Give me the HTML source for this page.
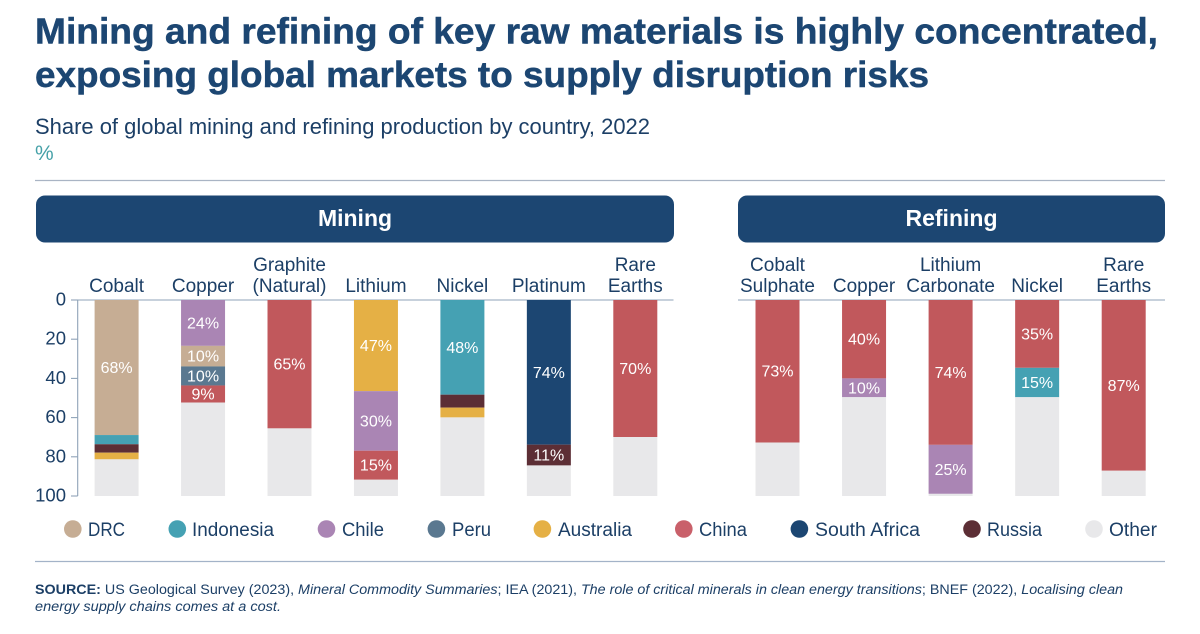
<!DOCTYPE html>
<html lang="en">
<head>
<meta charset="utf-8">
<title>Mining and refining concentration</title>
<style>
html,body{margin:0;padding:0;background:#fff;width:1200px;height:634px;overflow:hidden}
svg{display:block;font-family:"Liberation Sans",sans-serif}
.title{font-size:36px;font-weight:bold;fill:#1c4672;stroke:#1c4672;stroke-width:.5px}
.sub{font-size:22px;fill:#1c3f66}
.panel{font-size:23px;font-weight:bold;fill:#fff;text-anchor:middle}
.leg{font-size:19px;fill:#1c3f66}
.src{font-size:13.5px;fill:#1c3f66}
.cat{font-size:19px;fill:#1c3f66;text-anchor:middle}
.tick{font-size:18.5px;fill:#1c3f66;text-anchor:end}
.val{font-size:16px;fill:#fff;text-anchor:middle}
</style>
</head>
<body>
<svg id="chart" xmlns="http://www.w3.org/2000/svg" width="1200" height="634" viewBox="0 0 1200 634">
  <text class="title" x="35" y="43.5" textLength="1123" lengthAdjust="spacingAndGlyphs">Mining and refining of key raw materials is highly concentrated,</text>
  <text class="title" x="35" y="87" textLength="894" lengthAdjust="spacingAndGlyphs">exposing global markets to supply disruption risks</text>
  <text class="sub" x="35" y="134" textLength="615" lengthAdjust="spacingAndGlyphs">Share of global mining and refining production by country, 2022</text>
  <text class="sub" x="35" y="160" style="fill:#45a1a8;font-size:21px">%</text>
  <line x1="35" x2="1165" y1="180.5" y2="180.5" stroke="#a9b4c4" stroke-width="1.2"/>

  <rect x="36" y="195.5" width="638" height="47" rx="9" fill="#1c4672"/>
  <text class="panel" x="355" y="226">Mining</text>
  <rect x="738" y="195.5" width="427" height="47" rx="9" fill="#1c4672"/>
  <text class="panel" x="951.5" y="226">Refining</text>

  <g id="plot"></g>

  <g>
    <g><circle cx="72.8" cy="529" r="8.8" fill="#c6ad94"/><text class="leg" x="88" y="536" textLength="37" lengthAdjust="spacingAndGlyphs">DRC</text></g>
    <g><circle cx="177.3" cy="529" r="8.8" fill="#45a1b3"/><text class="leg" x="192" y="536" textLength="82" lengthAdjust="spacingAndGlyphs">Indonesia</text></g>
    <g><circle cx="326.5" cy="529" r="8.8" fill="#aa85b4"/><text class="leg" x="342" y="536" textLength="42" lengthAdjust="spacingAndGlyphs">Chile</text></g>
    <g><circle cx="436.4" cy="529" r="8.8" fill="#5a7890"/><text class="leg" x="452" y="536" textLength="39" lengthAdjust="spacingAndGlyphs">Peru</text></g>
    <g><circle cx="542.4" cy="529" r="8.8" fill="#e5b045"/><text class="leg" x="558" y="536" textLength="74" lengthAdjust="spacingAndGlyphs">Australia</text></g>
    <g><circle cx="683.8" cy="529" r="8.8" fill="#c9606a"/><text class="leg" x="699" y="536" textLength="48" lengthAdjust="spacingAndGlyphs">China</text></g>
    <g><circle cx="799.4" cy="529" r="8.8" fill="#1c4672"/><text class="leg" x="815" y="536" textLength="105" lengthAdjust="spacingAndGlyphs">South Africa</text></g>
    <g><circle cx="972" cy="529" r="8.8" fill="#5c2e35"/><text class="leg" x="987" y="536" textLength="55" lengthAdjust="spacingAndGlyphs">Russia</text></g>
    <g><circle cx="1094" cy="529" r="8.8" fill="#e8e8ea"/><text class="leg" x="1109" y="536" textLength="48" lengthAdjust="spacingAndGlyphs">Other</text></g>
  </g>

  <line x1="35" x2="1165" y1="561.5" y2="561.5" stroke="#a3b3c8" stroke-width="1.2"/>
  <text class="src" x="35" y="594" textLength="1088" lengthAdjust="spacingAndGlyphs"><tspan font-weight="bold">SOURCE:</tspan> US Geological Survey (2023), <tspan font-style="italic">Mineral Commodity Summaries</tspan>; IEA (2021), <tspan font-style="italic">The role of critical minerals in clean energy transitions</tspan>; BNEF (2022), <tspan font-style="italic">Localising clean</tspan></text>
  <text class="src" x="35" y="611" font-style="italic" textLength="246" lengthAdjust="spacingAndGlyphs">energy supply chains comes at a cost.</text>
</svg>
<script>
const yTickValues = [0, 20, 40, 60, 80, 100];

const miningCategories = ['Cobalt', 'Copper', 'Graphite|(Natural)', 'Lithium', 'Nickel', 'Platinum', 'Rare|Earths'];
const miningCountries = [
  ['DRC', 'Indonesia', 'Russia', 'Australia', 'Other'],
  ['Chile', 'DRC', 'Peru', 'China', 'Other'],
  ['China', 'Other'],
  ['Australia', 'Chile', 'China', 'Other'],
  ['Indonesia', 'Russia', 'Australia', 'Other'],
  ['South Africa', 'Russia', 'Other'],
  ['China', 'Other']
];
const miningValues = [
  [68.9, 4.7, 4.3, 3.4, 18.7],
  [23.4, 10.5, 9.7, 8.7, 47.7],
  [65.5, 34.5],
  [46.5, 30.4, 14.8, 8.3],
  [48.3, 6.6, 5, 40.1],
  [73.8, 10.6, 15.6],
  [69.9, 30.1]
];
const miningLabels = [
  ['68%', '', '', '', ''],
  ['24%', '10%', '10%', '9%', ''],
  ['65%', ''],
  ['47%', '30%', '15%', ''],
  ['48%', '', '', ''],
  ['74%', '11%', ''],
  ['70%', '']
];

const refiningCategories = ['Cobalt|Sulphate', 'Copper', 'Lithium|Carbonate', 'Nickel', 'Rare|Earths'];
const refiningCountries = [
  ['China', 'Other'],
  ['China', 'Chile', 'Other'],
  ['China', 'Chile', 'Other'],
  ['China', 'Indonesia', 'Other'],
  ['China', 'Other']
];
const refiningValues = [
  [72.7, 27.3],
  [40, 9.6, 50.4],
  [73.9, 25, 1.1],
  [34.6, 15, 50.4],
  [87.1, 12.9]
];
const refiningLabels = [
  ['73%', ''],
  ['40%', '10%', ''],
  ['74%', '25%', ''],
  ['35%', '15%', ''],
  ['87%', '']
];

const countryColors = {
  'DRC': '#c6ad94', 'Indonesia': '#45a1b3', 'Chile': '#aa85b4', 'Peru': '#5a7890',
  'Australia': '#e5b045', 'China': '#c1585c', 'South Africa': '#1c4672', 'Russia': '#5c2e35', 'Other': '#e8e8ea'
};

const NS = 'http://www.w3.org/2000/svg';
const plot = document.getElementById('plot');
const axisTop = 300, axisBottom = 496, axisMax = 100, barWidth = 44;
const yScale = v => axisTop + (v / axisMax) * (axisBottom - axisTop);
const slug = s => s.toLowerCase().replace(/[^a-z0-9]+/g, '-').replace(/^-|-$/g, '');

function make(tag, attrs, text) {
  const el = document.createElementNS(NS, tag);
  for (const k in attrs) el.setAttribute(k, attrs[k]);
  if (text !== undefined) el.textContent = text;
  plot.appendChild(el);
  return el;
}

function drawPanel(panel, categories, countries, values, labels, firstX, step, x1, x2) {
  const xScale = i => firstX + i * step;
  const baseline = make('line', { x1: x1, x2: x2, y1: axisTop, y2: axisTop, stroke: '#8fa3b8', 'stroke-width': 1.1 });
  
  
  categories.forEach((cat, i) => {
    const cx = xScale(i) + barWidth / 2;
    const lines = cat.split('|');
    lines.forEach((ln, j) => {
      const t = make('text', { class: 'cat', x: cx, y: 292 - 21 * (lines.length - 1 - j) }, ln);
      
      
    });
    let cum = 0;
    const rects = [];
    values[i].forEach((v, k) => {
      const y0 = yScale(cum), y1 = yScale(cum + v);
      const r = make('rect', { x: xScale(i), y: y0, width: barWidth, height: y1 - y0, fill: countryColors[countries[i][k]] });
      
      
      rects.push([y0, y1]);
      cum += v;
    });
    labels[i].forEach((lab, k) => {
      if (!lab) return;
      const t = make('text', { class: 'val', x: cx, y: (rects[k][0] + rects[k][1]) / 2 + 5.5 }, lab);
      
      
    });
  });
}

function drawYAxis() {
  const axis = make('line', { x1: 77.7, x2: 77.7, y1: axisTop, y2: axisBottom, stroke: '#8fa3b8', 'stroke-width': 1.1 });
  
  
  yTickValues.forEach(v => {
    const y = yScale(v);
    const tick = make('line', { x1: 71, x2: 77.7, y1: y, y2: y, stroke: '#8fa3b8', 'stroke-width': 1.1 });
    
    
    const t = make('text', { class: 'tick', x: 66, y: y + 5.5 }, String(v));
    
    
  });
}

drawPanel('mining', miningCategories, miningCountries, miningValues, miningLabels, 94.6, 86.45, 71, 673.5);
drawPanel('refining', refiningCategories, refiningCountries, refiningValues, refiningLabels, 755.5, 86.55, 738, 1165);
drawYAxis();
</script>
</body>
</html>
